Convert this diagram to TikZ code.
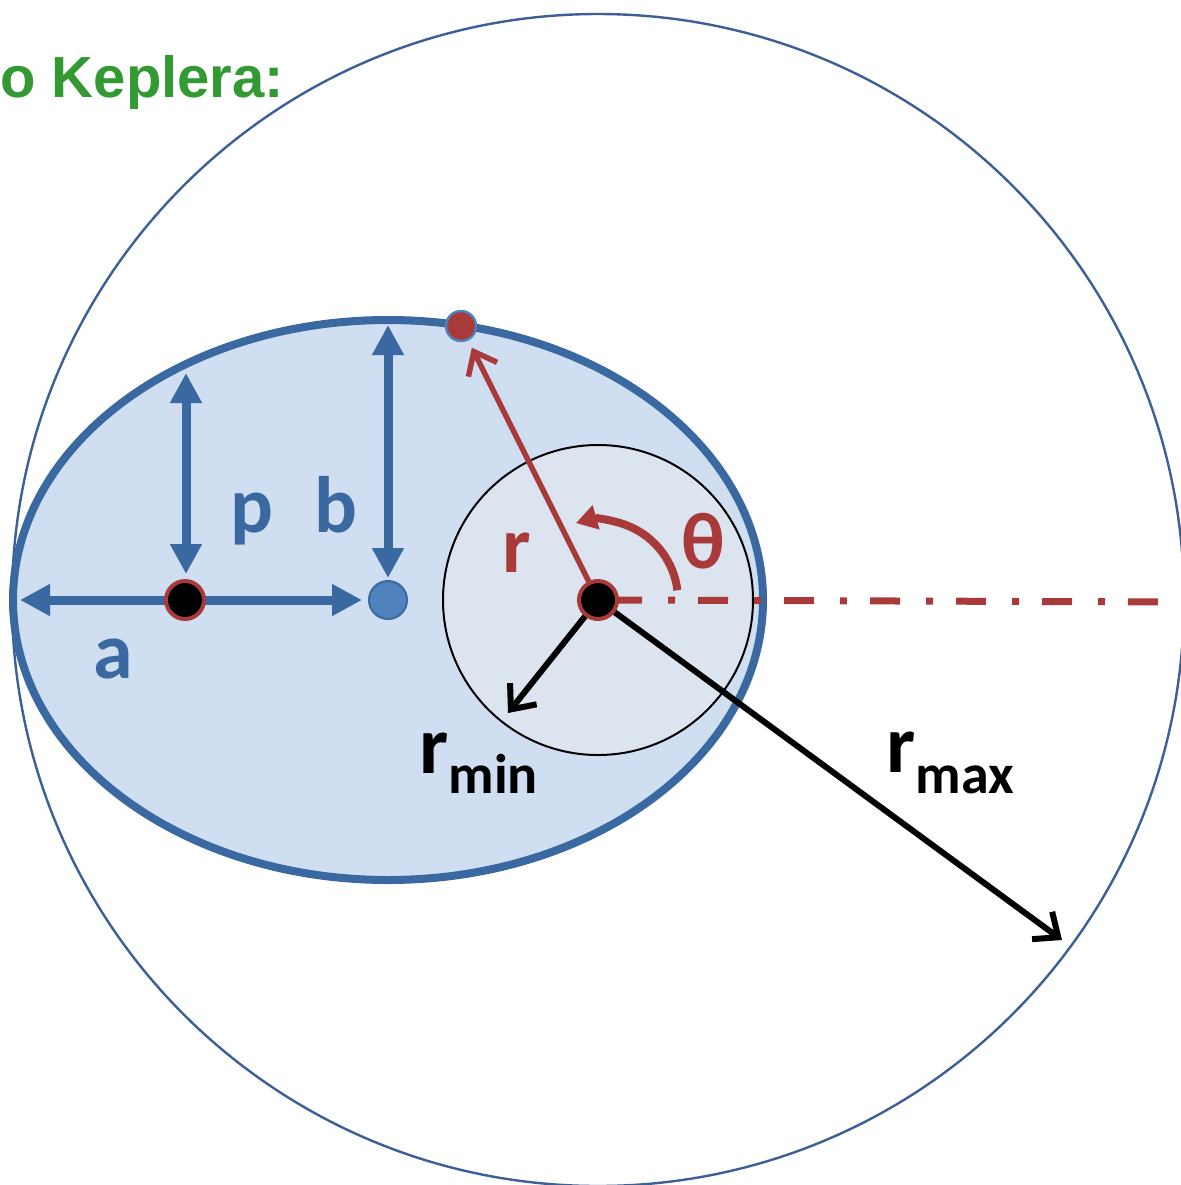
\documentclass[tikz,border=0pt]{standalone}
\usepackage{fontspec}
\setmainfont{Carlito}
\newfontfamily\titlefont{Liberation Sans}
\usetikzlibrary{arrows.meta}
\definecolor{dblue}{RGB}{58,104,160}
\definecolor{cblue}{RGB}{60,95,150}
\definecolor{lfill}{RGB}{207,222,241}
\definecolor{sfill}{RGB}{220,228,239}
\definecolor{mblue}{RGB}{79,129,189}
\definecolor{dred}{RGB}{168,58,58}
\definecolor{kgreen}{RGB}{51,153,51}
\tikzset{
  bluearrow/.style={draw=dblue, line width=4.5pt, {Triangle[length=15pt,width=15pt]}-{Triangle[length=15pt,width=15pt]}},
  blackarrow/.style={draw=black, line width=3pt, -{Straight Barb[length=10pt,width=17pt]}},
  redarrow/.style={draw=dred, line width=2.75pt, -{Straight Barb[length=10pt,width=16pt]}},
  fdot/.style={circle, inner sep=0pt, minimum size=19pt, fill=black, draw=dred, line width=2pt},
  cdot/.style={circle, inner sep=0pt, minimum size=19pt, fill=mblue, draw=dblue, line width=1pt},
  pdot/.style={circle, inner sep=0pt, minimum size=15pt, fill=dred, draw=mblue, line width=1.2pt},
  lbl/.style={anchor=base, inner sep=0pt, text=dblue, font=\bfseries\fontsize{40pt}{40pt}\selectfont},
  rlbl/.style={anchor=base, inner sep=0pt, text=dred, font=\bfseries\fontsize{40pt}{40pt}\selectfont},
  klbl/.style={anchor=base west, inner sep=0pt, text=black, font=\bfseries\fontsize{41pt}{41pt}\selectfont},
}
\begin{document}
\begin{tikzpicture}[x=0.5pt,y=-0.5pt]
\useasboundingbox (0,0) rectangle (1181,1185);
\clip (0,0) rectangle (1181,1185);
\fill[white] (0,0) rectangle (1181,1185);
% key points
\coordinate (F) at (598,600);
\coordinate (C) at (388,600);
\coordinate (F2) at (185,600);
\coordinate (aL) at (20,600);
\coordinate (aR) at (362,600);
\coordinate (pT) at (186,373);
\coordinate (pB) at (186,574);
\coordinate (bT) at (388,325);
\coordinate (bB) at (388,578);
\coordinate (axisstart) at (612,600);
\coordinate (axisend) at (1185,602);
\coordinate (rminend) at (508,713);
\coordinate (rmaxend) at (1062,940);
% big circle (r_max)
\draw[cblue, line width=1.2pt] (F) circle[radius=293pt];
% title
\node[anchor=base west, inner sep=0pt, text=kgreen, font=\titlefont\bfseries\fontsize{29pt}{29pt}\selectfont] (title) at (0,97) {o Keplera:};
% ellipse
\draw[dblue, fill=lfill, line width=4pt] (C) ellipse[x radius=187.5pt, y radius=140pt];
% small circle (r_min)
\draw[black, fill=sfill, line width=1pt] (F) circle[radius=77.5pt];
% axis
\draw[dred, line width=3.5pt, dash pattern=on 15pt off 13pt on 3.5pt off 11.5pt] (axisstart) -- (axisend);
% blue dimension arrows
\draw[bluearrow] (aL) -- (aR);
\draw[bluearrow] (pT) -- (pB);
\draw[bluearrow] (bT) -- (bB);
% planet
\node[pdot] (planet) at (461,326) {};
% radius vector
\draw[redarrow, shorten >=4pt] (F) -- (planet);
% theta arc
\draw[dred, line width=4pt, -{Triangle[length=10.5pt,width=12pt]}] ([shift={(7:40pt)}]F) arc[start angle=7, end angle=106, radius=40pt];
% r_min, r_max arrows
\draw[blackarrow] (F) -- (rminend);
\draw[blackarrow] (F) -- (rmaxend);
% dots
\node[fdot] (focus) at (F) {};
\node[fdot] (focus2) at (F2) {};
\node[cdot] (center) at (C) {};
% labels
\node[lbl] (lp) at (252,532) {p};
\node[lbl] (lb) at (336,532) {b};
\node[lbl] (la) at (113,678) {a};
\node[rlbl] (lr) at (517,572) {r};
\node[rlbl] (lth) at (703,568) {θ};
\node[klbl] (lrmin) at (419,773) {r\raisebox{-10pt}{\fontsize{28pt}{28pt}\selectfont min}};
\node[klbl] (lrmax) at (886,772) {r\raisebox{-10.5pt}{\fontsize{28pt}{28pt}\selectfont max}};
\end{tikzpicture}
\end{document}
